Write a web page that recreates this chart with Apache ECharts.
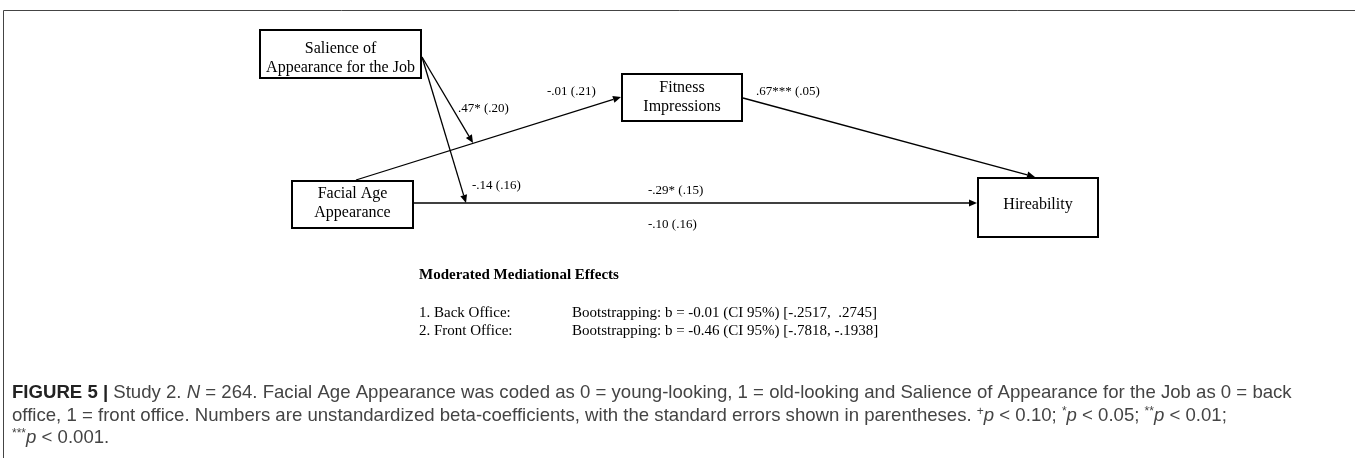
<!DOCTYPE html>
<html><head><meta charset="utf-8">
<script src="https://cdn.jsdelivr.net/npm/echarts@6/dist/echarts.min.js"></script>
<style>html,body{margin:0;padding:0;background:#fff}#main{width:1355px;height:458px}</style>
</head><body><div id="main"></div>
<script>
// ---- content ----
const nodeNames = ['Salience of\nAppearance for the Job', 'Fitness\nImpressions', 'Facial Age\nAppearance', 'Hireability'];
const pathLabels = ['.47* (.20)', '-.01 (.21)', '.67*** (.05)', '-.14 (.16)', '-.29* (.15)', '-.10 (.16)'];
const effectsTitle = 'Moderated Mediational Effects';
const effectGroups = ['1. Back Office:', '2. Front Office:'];
const effectStats = ['Bootstrapping: b = -0.01 (CI 95%) [-.2517,  .2745]', 'Bootstrapping: b = -0.46 (CI 95%) [-.7818, -.1938]'];
const captionLines = [
  '{b|FIGURE 5 |} Study 2. {i|N} = 264. Facial Age Appearance was coded as 0 = young-looking, 1 = old-looking and Salience of Appearance for the Job as 0 = back',
  'office, 1 = front office. Numbers are unstandardized beta-coefficients, with the standard errors shown in parentheses. {s|+}{i|p} < 0.10; {s|*}{i|p} < 0.05; {s|**}{i|p} < 0.01;',
  '{s|***}{i|p} < 0.001.'
];

// ---- layout (diagram space, px) ----
const boxLayout = [[259, 29, 422, 79], [621, 73, 743, 122], [291, 180, 414, 229], [977, 177, 1099, 238]];
const boxTextShift = [4, 0, -1, -3];
const arrowLayout = [
  [356, 180, 621, 97],
  [743, 98, 1035, 177],
  [414, 203, 977, 203],
  [422, 57, 473, 143],
  [422, 57, 466, 203]
];
const labelLayout = [[458, 109], [547, 92], [756, 92], [472, 186], [648, 191], [648, 225]];

const SERIF = '"Liberation Serif", "Times New Roman", serif';
const SANS = '"Liberation Sans", Arial, sans-serif';
const CAP = 18.6;

const chart = echarts.init(document.getElementById('main'), null, {renderer: 'canvas'});

const graphics = [
  {type: 'line', shape: {x1: 3.5, y1: 10.5, x2: 1355, y2: 10.5}, style: {stroke: '#444', lineWidth: 1}},
  {type: 'line', shape: {x1: 3.5, y1: 10.5, x2: 3.5, y2: 458}, style: {stroke: '#444', lineWidth: 1}},
  {type: 'text', x: 419, y: 275, style: {text: effectsTitle, font: 'bold 15px ' + SERIF, fill: '#000', verticalAlign: 'middle'}}
];
effectGroups.forEach((g, i) => {
  graphics.push({type: 'text', x: 419, y: 313 + i * 18, style: {text: g, font: '15px ' + SERIF, fill: '#000', verticalAlign: 'middle'}});
  graphics.push({type: 'text', x: 572, y: 313 + i * 18, style: {text: effectStats[i], font: '15px ' + SERIF, fill: '#000', verticalAlign: 'middle'}});
});
captionLines.forEach((t, i) => {
  graphics.push({type: 'text', x: 12, y: 393 + i * 22.5, style: {
    text: t, fontFamily: SANS, fontSize: CAP, fill: '#444', verticalAlign: 'middle',
    rich: {
      b: {fontFamily: SANS, fontSize: CAP, fontWeight: 'bold', fill: '#222'},
      i: {fontFamily: SANS, fontSize: CAP, fontStyle: 'italic', fill: '#444'},
      s: {fontFamily: SANS, fontSize: 12, fill: '#444', verticalAlign: 'top', padding: [0, 0, 8, 0]}
    }
  }});
});

chart.setOption({
  animation: false,
  grid: {left: 0, right: 0, top: 0, bottom: 0},
  xAxis: {type: 'value', min: 0, max: 1355, show: false},
  yAxis: {type: 'value', min: 0, max: 458, inverse: true, show: false},
  graphic: graphics,
  series: [
    {
      // path arrows: straight line with a filled triangular head whose tip sits on the end point
      type: 'custom', z: 2,
      data: arrowLayout,
      renderItem(params, api) {
        const a = api.coord([api.value(0), api.value(1)]);
        const b = api.coord([api.value(2), api.value(3)]);
        const dx = b[0] - a[0], dy = b[1] - a[1];
        const len = Math.sqrt(dx * dx + dy * dy);
        const ux = dx / len, uy = dy / len;
        const L = 8, W = 3.5;
        const bx = b[0] - ux * L, by = b[1] - uy * L;
        return {type: 'group', children: [
          {type: 'line', shape: {x1: a[0], y1: a[1], x2: bx, y2: by}, style: {stroke: '#000', lineWidth: 1.3}},
          {type: 'polygon', shape: {points: [[b[0], b[1]], [bx - uy * W, by + ux * W], [bx + uy * W, by - ux * W]]}, style: {fill: '#000'}}
        ]};
      }
    },
    {
      type: 'custom', z: 3,
      data: boxLayout,
      renderItem(params, api) {
        const p1 = api.coord([api.value(0), api.value(1)]);
        const p2 = api.coord([api.value(2), api.value(3)]);
        const x = Math.min(p1[0], p2[0]), y = Math.min(p1[1], p2[1]);
        const w = Math.abs(p2[0] - p1[0]), h = Math.abs(p2[1] - p1[1]);
        return {type: 'group', children: [
          {type: 'rect', shape: {x: x + 1, y: y + 1, width: w - 2, height: h - 2}, style: {fill: '#fff', stroke: '#000', lineWidth: 2}},
          {type: 'text', x: x + w / 2, y: y + h / 2 + boxTextShift[params.dataIndex], style: {text: nodeNames[params.dataIndex], font: '16px ' + SERIF, lineHeight: 19, fill: '#000', align: 'center', verticalAlign: 'middle'}}
        ]};
      }
    },
    {
      type: 'custom', z: 4,
      data: labelLayout.map((p, i) => [p[0], p[1], i]),
      renderItem(params, api) {
        const p = api.coord([api.value(0), api.value(1)]);
        return {type: 'text', x: p[0], y: p[1], style: {text: pathLabels[params.dataIndex], font: '13px ' + SERIF, fill: '#000', align: 'left', verticalAlign: 'middle'}};
      }
    }
  ]
});
</script></body></html>
